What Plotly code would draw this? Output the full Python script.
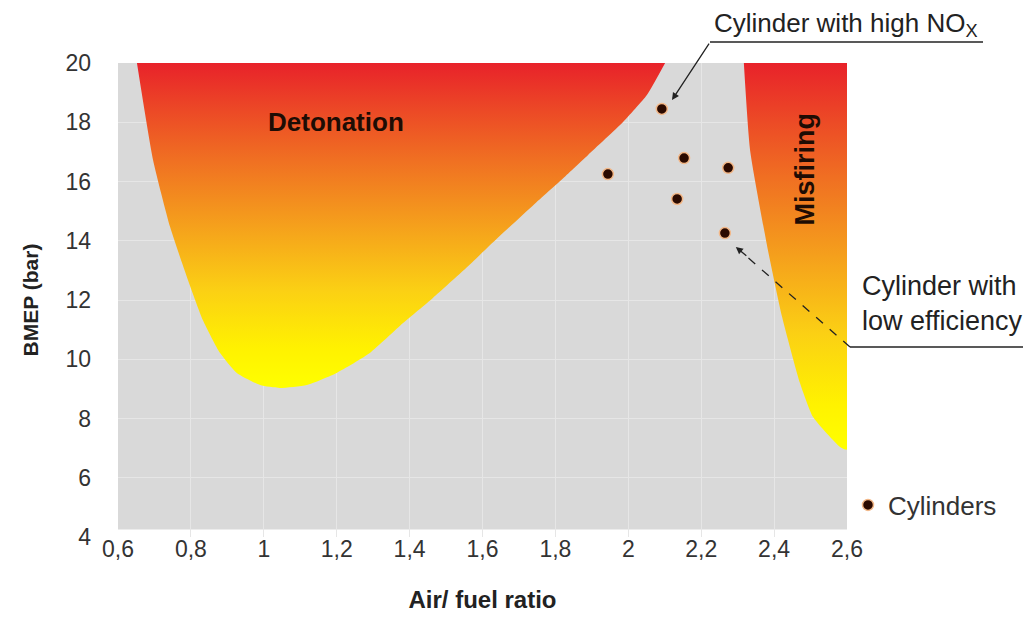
import plotly.graph_objects as go

# ---- data ----
x_ticks = [0.6, 0.8, 1.0, 1.2, 1.4, 1.6, 1.8, 2.0, 2.2, 2.4, 2.6]
x_tick_labels = ["0,6", "0,8", "1", "1,2", "1,4", "1,6", "1,8", "2", "2,2", "2,4", "2,6"]
y_ticks = [4, 6, 8, 10, 12, 14, 16, 18, 20]
y_tick_labels = ["4", "6", "8", "10", "12", "14", "16", "18", "20"]

# Detonation region boundary (air/fuel ratio, BMEP)
det_x = [0.652, 0.696, 0.743, 0.789, 0.833, 0.880, 0.926, 0.990, 1.044, 1.118, 1.200,
         1.291, 1.382, 1.464, 1.555, 1.650, 1.740, 1.822, 1.889, 1.985, 2.051, 2.101]
det_y = [20.0, 16.73, 14.46, 12.78, 11.32, 10.21, 9.54, 9.13, 9.03, 9.13, 9.54,
         10.21, 11.22, 12.07, 13.08, 14.19, 15.21, 16.12, 16.89, 18.0, 18.92, 20.0]

# Misfiring region boundary
mis_x = [2.317, 2.334, 2.383, 2.422, 2.471, 2.507, 2.581, 2.6, 2.6]
mis_y = [20.0, 17.06, 13.69, 11.43, 9.2, 8.05, 7.04, 6.95, 20.0]

# Cylinders
cyl_x = [2.092, 2.153, 2.274, 1.944, 2.134, 2.265]
cyl_y = [18.45, 16.79, 16.46, 16.25, 15.41, 14.26]

FONT = "Liberation Sans, Arial, sans-serif"
grad = [[0, "#ffff00"], [0.12, "#fff200"], [0.3, "#fbd014"], [0.5, "#f5a01c"],
        [0.7, "#f07022"], [0.85, "#ec4a26"], [1, "#e8222a"]]

fig = go.Figure()

fig.add_trace(go.Scatter(
    x=det_x, y=det_y, mode="lines", fill="toself", line=dict(width=0, shape="spline", smoothing=0.5),
    fillgradient=dict(type="vertical", colorscale=grad, start=min(det_y), stop=20),
    hoverinfo="skip", showlegend=False))

fig.add_trace(go.Scatter(
    x=mis_x, y=mis_y, mode="lines", fill="toself", line=dict(width=0, shape="spline", smoothing=0.5),
    fillgradient=dict(type="vertical", colorscale=grad, start=min(mis_y), stop=20),
    hoverinfo="skip", showlegend=False))

fig.add_trace(go.Scatter(
    x=cyl_x, y=cyl_y, mode="markers", name="Cylinders",
    marker=dict(size=11, color="#2b0a00", line=dict(color="#f3b888", width=1.5))))

# plot-area helpers (plot spans 729 x 474 px; positions given in reference pixels)
def px(p):
    return (p - 118) / 729.0

def py(p):
    return (537 - p) / 474.0

shapes = [
    dict(type="rect", xref="x", yref="y", x0=0.6, x1=2.6, y0=4.25, y1=20,
         fillcolor="#d9d9d9", line=dict(width=0), layer="below"),
    dict(type="line", xref="paper", yref="paper", x0=px(710), y0=py(42), x1=px(983), y1=py(42),
         line=dict(color="#222", width=1.3)),
    dict(type="line", xref="paper", yref="paper", x0=px(850), y0=py(347), x1=px(1023), y1=py(347),
         line=dict(color="#222", width=1.3)),
    dict(type="line", xref="paper", yref="paper", x0=px(850), y0=py(347), x1=px(745), y1=py(255),
         line=dict(color="#222", width=1.3, dash="dash")),
]

annotations = [
    dict(text="<b>Detonation</b>", x=1.198, y=18.0, xref="x", yref="y", showarrow=False,
         font=dict(family=FONT, size=26, color="#1e0c04"), xanchor="center", yanchor="middle"),
    dict(text="<b>Misfiring</b>", x=2.486, y=16.42, xref="x", yref="y", showarrow=False, textangle=-90,
         font=dict(family=FONT, size=27, color="#1e0c04"), xanchor="center", yanchor="middle"),
    dict(text="Cylinder with high NO<sub>X</sub>", x=px(712), y=py(24), xref="paper", yref="paper",
         showarrow=False, xanchor="left", yanchor="middle", font=dict(family=FONT, size=26, color="#222")),
    dict(text="Cylinder with<br>low efficiency", x=px(860), y=py(303), xref="paper", yref="paper",
         showarrow=False, xanchor="left", yanchor="middle", align="left",
         font=dict(family=FONT, size=27, color="#222")),
    dict(text="", x=2.120, y=18.75, xref="x", yref="y", showarrow=True, ax=38, ay=-58,
         arrowhead=2, arrowsize=1.1, arrowwidth=1.3, arrowcolor="#222", standoff=0),
    dict(text="", x=2.295, y=13.79, xref="x", yref="y", showarrow=True, ax=12, ay=10,
         arrowhead=2, arrowsize=1.1, arrowwidth=1.3, arrowcolor="#222", standoff=0),
]

fig.update_layout(
    width=1025, height=624,
    margin=dict(l=118, r=178, t=63, b=87),
    plot_bgcolor="white", paper_bgcolor="white",
    font=dict(family=FONT, color="#333"),
    shapes=shapes, annotations=annotations,
    showlegend=True,
    legend=dict(x=px(848), y=py(505), xanchor="left", yanchor="middle",
                font=dict(family=FONT, size=26, color="#333"), bgcolor="rgba(0,0,0,0)"),
)

fig.update_xaxes(range=[0.6, 2.6], tickvals=x_ticks, ticktext=x_tick_labels,
                 showgrid=True, gridcolor="#e6e6e6", gridwidth=1, zeroline=False, showline=False,
                 ticks="", ticklabelstandoff=-4, tickfont=dict(size=23, color="#333"),
                 title=dict(text="<b>Air/ fuel ratio</b>", font=dict(size=24, color="#222"), standoff=30))
fig.update_yaxes(range=[4, 20], tickvals=y_ticks, ticktext=y_tick_labels,
                 showgrid=True, gridcolor="#e6e6e6", gridwidth=1, zeroline=False, showline=False,
                 ticks="", ticklabelstandoff=26, tickfont=dict(size=23, color="#333"),
                 title=dict(text="<b>BMEP (bar)</b>", font=dict(size=21, color="#222"), standoff=21))

fig.write_html("out.html", config={"displayModeBar": False},
               post_script="document.body.style.margin='0px';document.body.style.overflow='hidden';")
